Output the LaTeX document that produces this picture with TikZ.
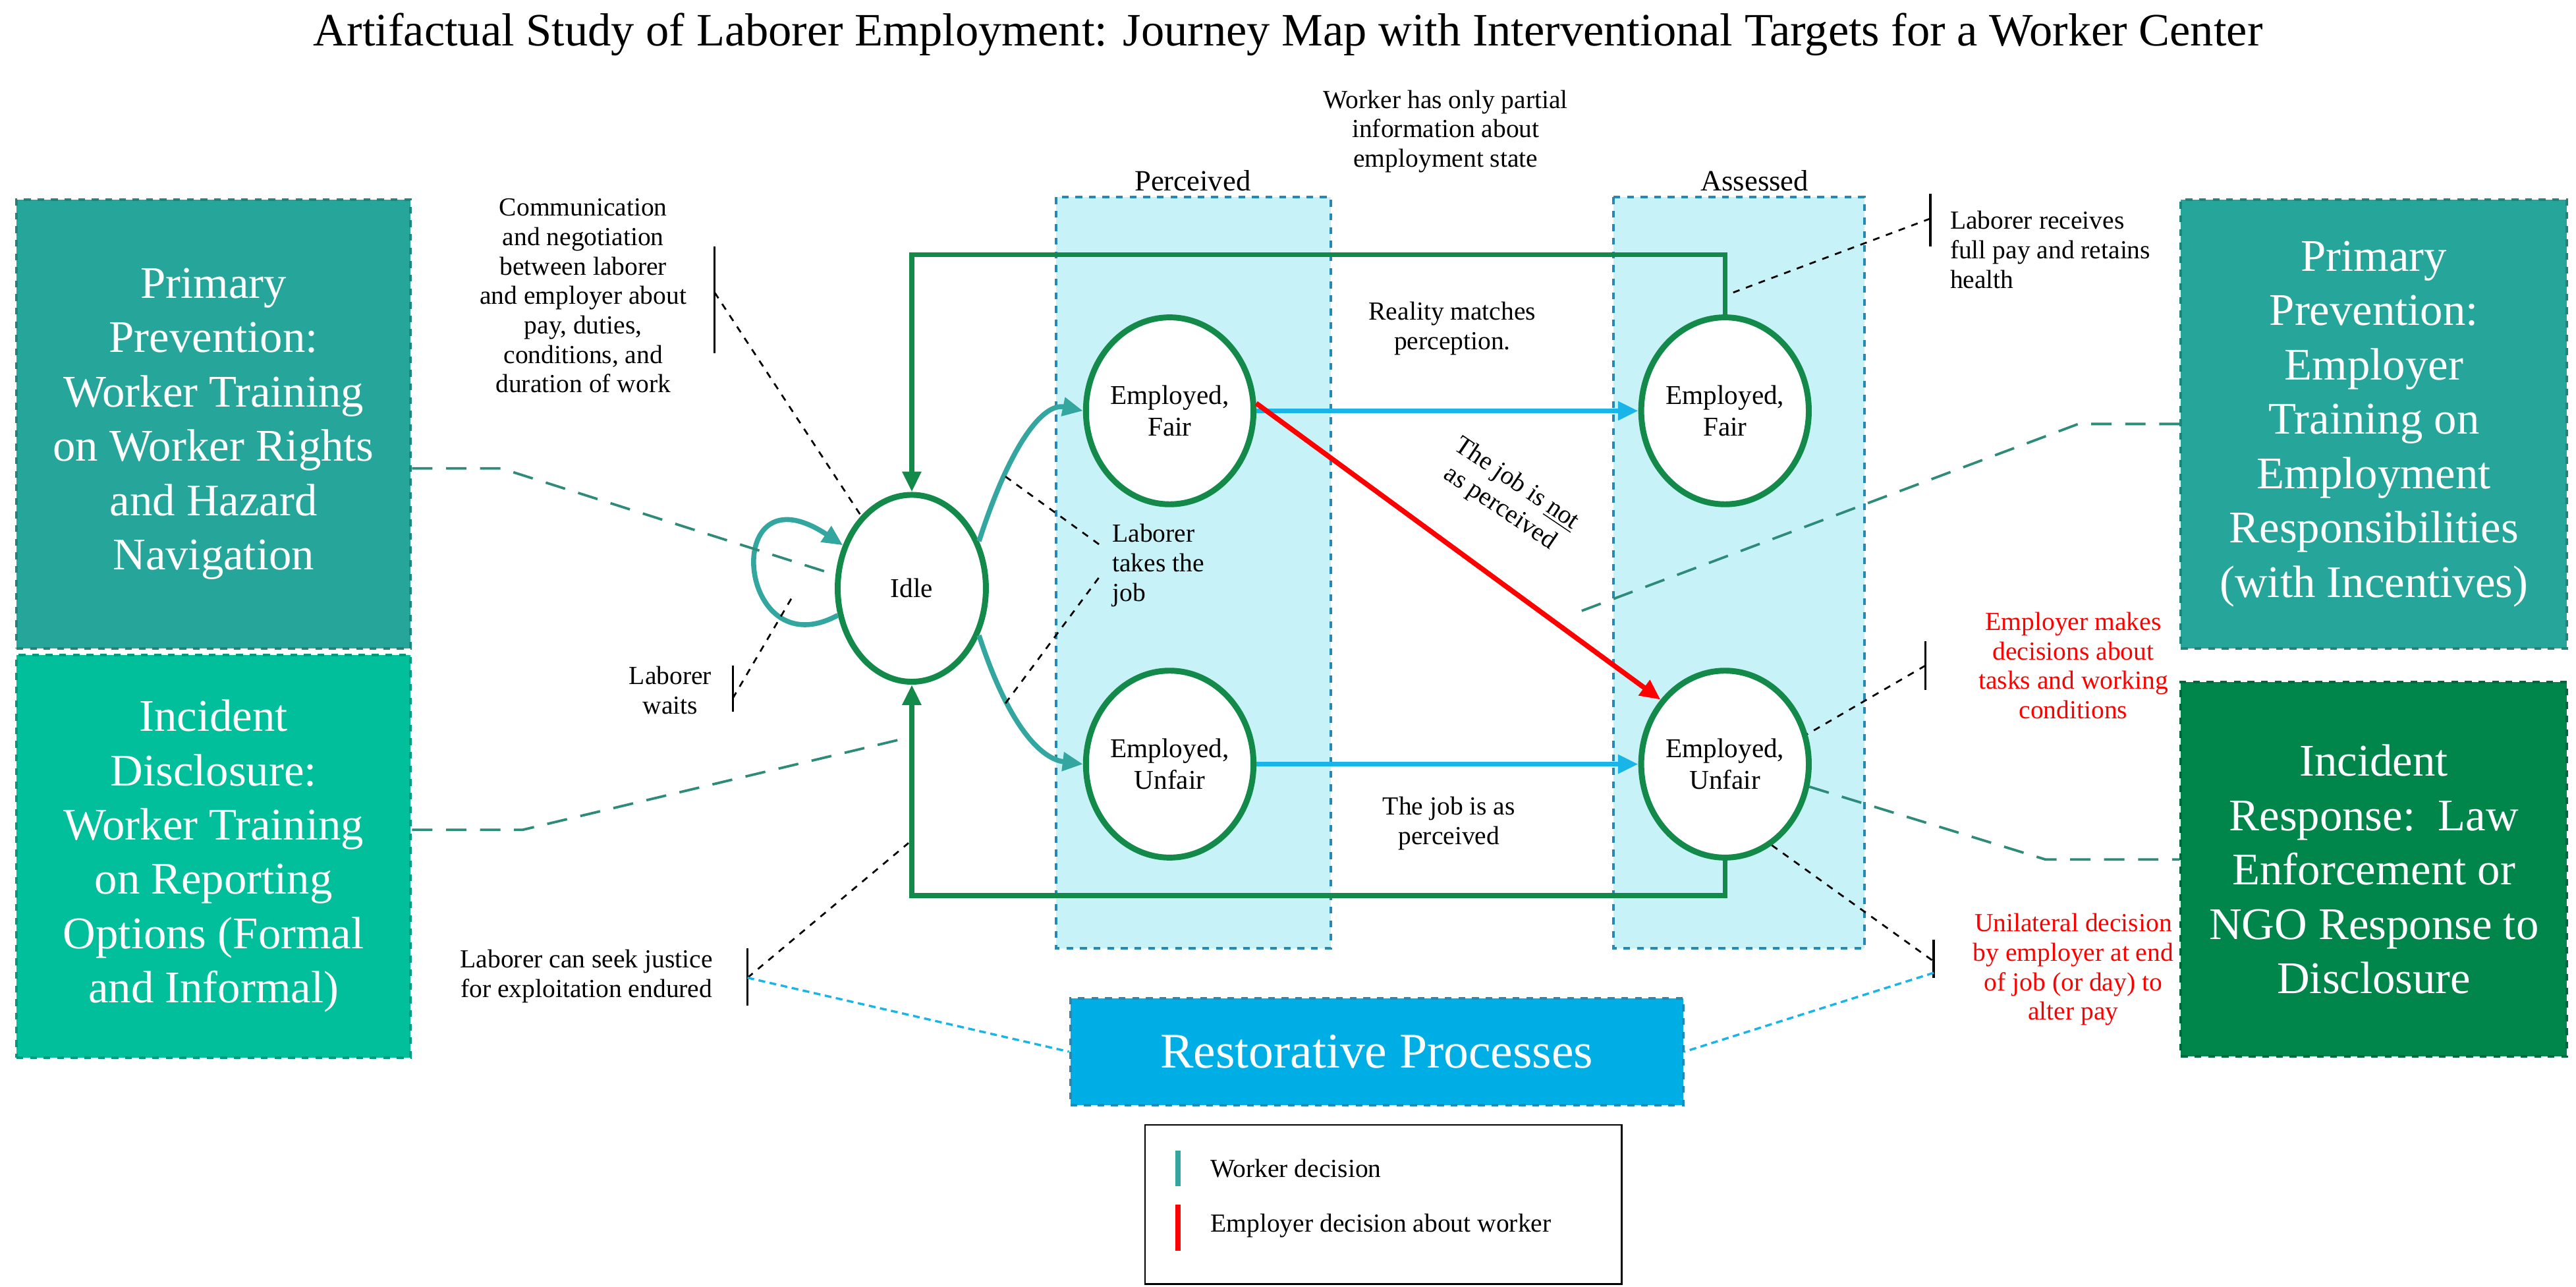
\documentclass[tikz,border=0pt]{standalone}
\usepackage{fontspec}
\setmainfont{Liberation Serif}
\usetikzlibrary{shapes.geometric,arrows.meta}
\definecolor{tealbox}{HTML}{26A69A}
\definecolor{greenbox}{HTML}{00BF9A}
\definecolor{darkbox}{HTML}{00854A}
\definecolor{nodeg}{HTML}{138A4A}
\definecolor{tealarr}{HTML}{33A6A0}
\definecolor{cyanarr}{HTML}{1AB5E8}
\definecolor{colfill}{HTML}{C7F2F8}
\definecolor{colbord}{HTML}{2489B5}
\definecolor{restfill}{HTML}{00AEE6}
\definecolor{dashg}{HTML}{2E8B7A}
\begin{document}
\begin{tikzpicture}[x=0.0255cm,y=-0.0255cm,
  bigbox/.style={draw, dashed, line width=1.2pt, text=white, align=center, font=\fontsize{20}{24}\selectfont, inner sep=0},
  col/.style={draw=colbord, fill=colfill, dashed, line width=1.2pt},
  st/.style={ellipse, draw=nodeg, line width=2.6pt, fill=white, minimum width=2.3cm, minimum height=2.9cm, inner sep=0, align=center, font=\fontsize{12}{14}\selectfont},
  lbl/.style={align=center, font=\fontsize{11.5}{13}\selectfont},
  loopg/.style={draw=nodeg, line width=2.2pt, -{Triangle[length=9pt,width=8pt]}},
  tarr/.style={draw=tealarr, line width=2.2pt, -{Triangle[length=9pt,width=8pt]}},
  carr/.style={draw=cyanarr, line width=2.2pt, -{Triangle[length=9pt,width=8pt]}},
  rarr/.style={draw=red, line width=2.2pt, -{Triangle[length=9pt,width=8pt]}},
  bdash/.style={draw=black, dashed, line width=0.8pt},
  gdash/.style={draw=dashg, dash pattern=on 9pt off 6pt, line width=1.1pt},
  cdash/.style={draw=cyanarr, densely dashed, line width=1pt},
  brk/.style={draw=black, line width=0.9pt}]
\useasboundingbox (0,0) rectangle (1568,783);
\node[font=\fontsize{20.5}{24}\selectfont] (title) at (784,21) {Artifactual Study of Laborer Employment: Journey Map with Interventional Targets for a Worker Center};

% columns
\draw[col] (643,120) rectangle (810,577);
\draw[col] (982,120) rectangle (1135,577);
\node[font=\fontsize{13}{15}\selectfont] (perc) at (726,110) {Perceived};
\node[font=\fontsize{13}{15}\selectfont] (asse) at (1068,110) {Assessed};

% side boxes
\node[bigbox, fill=tealbox, draw=tealbox!80!black, minimum width=240*0.0255cm, minimum height=273*0.0255cm] (b1) at (130,258) {Primary\\Prevention:\\Worker Training\\on Worker Rights\\and Hazard\\Navigation};
\node[bigbox, fill=greenbox, draw=greenbox!80!black, minimum width=240*0.0255cm, minimum height=245*0.0255cm] (b2) at (130,521) {Incident\\Disclosure:\\Worker Training\\on Reporting\\Options (Formal\\and Informal)};
\node[bigbox, fill=tealbox, draw=tealbox!80!black, minimum width=235*0.0255cm, minimum height=273*0.0255cm] (b3) at (1445,258) {Primary\\Prevention:\\Employer\\Training on\\Employment\\Responsibilities\\(with Incentives)};
\node[bigbox, fill=darkbox, draw=darkbox!80!black, minimum width=235*0.0255cm, minimum height=228*0.0255cm] (b4) at (1445,529) {Incident\\Response:~~Law\\Enforcement or\\NGO Response to\\Disclosure};
\node[bigbox, fill=restfill, draw=colbord, minimum width=373*0.0255cm, minimum height=65*0.0255cm, font=\fontsize{22}{26}\selectfont] (rest) at (838,640) {Restorative Processes};

% states
\node[st] (idle) at (555,358) {Idle};
\node[st] (efp) at (712,250) {Employed,\\Fair};
\node[st] (eup) at (712,465) {Employed,\\Unfair};
\node[st] (efa) at (1050,250) {Employed,\\Fair};
\node[st] (eua) at (1050,465) {Employed,\\Unfair};

% loops back to idle
\draw[loopg] (efa.north) |- (1050,155) -| (idle.north);
\draw[loopg] (eua.south) |- (1050,545) -| (idle.south);
\draw[tarr] (idle.200) .. controls (448,408) and (438,282) .. (idle.148);
\draw[tarr] (idle.35) .. controls (615,270) and (635,245) .. (efp.180);
\draw[tarr] (idle.-35) .. controls (615,445) and (635,462) .. (eup.180);
\draw[carr] (efp.east) -- (efa.west);
\draw[carr] (eup.east) -- (eua.west);
\draw[rarr] (efp.5) -- (eua.135);

% labels
\node[lbl] (partial) at (880,80) {Worker has only partial\\information about\\employment state};
\node[lbl] (real) at (884,200) {Reality matches\\perception.};
\node[lbl, rotate=-34] (notas) at (918,302) {The job is \underline{not}\\as perceived};
\node[lbl] (asis) at (882,501) {The job is as\\perceived};
\node[lbl, align=left] (takes) at (705,344) {Laborer\\takes the\\job};
\node[lbl] (comm) at (355,180) {Communication\\and negotiation\\between laborer\\and employer about\\pay, duties,\\conditions, and\\duration of work};
\node[lbl] (waits) at (408,420) {Laborer\\waits};
\node[lbl] (justice) at (357,594) {Laborer can seek justice\\for exploitation endured};
\node[lbl, align=left] (full) at (1248,152) {Laborer receives\\full pay and retains\\health};
\node[lbl, text=red] (tasks) at (1262,405) {Employer makes\\decisions about\\tasks and working\\conditions};
\node[lbl, text=red] (unil) at (1262,590) {Unilateral decision\\by employer at end\\of job (or day) to\\alter pay};

% brackets and dashed leaders
\coordinate (cb) at (435,178);
\draw[brk] (435,150) -- (435,215);
\draw[bdash] (cb) -- (idle.125);
\coordinate (wb) at (446,425);
\draw[brk] (446,405) -- (446,433);
\draw[bdash] (wb) -- (483,362);
\coordinate (jb) at (455,595);
\draw[brk] (455,577) -- (455,612);
\draw[bdash] (jb) -- (553,513);
\draw[cdash] (jb) -- (rest.west);
\coordinate (tk1) at (670,332);
\coordinate (tk2) at (670,350);
\draw[bdash] (612,290) -- (tk1);
\draw[bdash] (612,428) -- (tk2);
\coordinate (fb) at (1175,133);
\draw[brk] (1175,118) -- (1175,150);
\draw[bdash] (fb) -- (1055,178);
\coordinate (tb) at (1172,405);
\draw[brk] (1172,390) -- (1172,420);
\draw[bdash] (tb) -- (eua.20);
\coordinate (ub) at (1177,585);
\draw[brk] (1177,572) -- (1177,595);
\draw[bdash] (eua.-60) -- (ub);
\draw[cdash] (1177,592) -- (rest.east);

% green dashed leaders
\coordinate (g1) at (305,285);
\draw[gdash] (b1.east |- g1) -- (g1) -- (idle.170);
\coordinate (g2) at (318,505);
\draw[gdash] (b2.east |- g2) -- (g2) -- (548,450);
\coordinate (g3) at (1265,258);
\draw[gdash] (b3.west |- g3) -- (g3) -- (962,372);
\coordinate (g4) at (1245,523);
\draw[gdash] (eua.-15) -- (g4) -- (b4.west |- g4);

% legend
\node[draw=black, line width=0.8pt, minimum width=290*0.0255cm, minimum height=97*0.0255cm] (leg) at (842,733) {};
\draw[draw=tealarr, line width=2.2pt] (717,700) -- (717,722);
\node[lbl, anchor=west] (lw) at (732,711) {Worker decision};
\draw[draw=red, line width=2.2pt] (717,733) -- (717,761);
\node[lbl, anchor=west] (le) at (732,746) {Employer decision about worker};
\end{tikzpicture}
\end{document}
